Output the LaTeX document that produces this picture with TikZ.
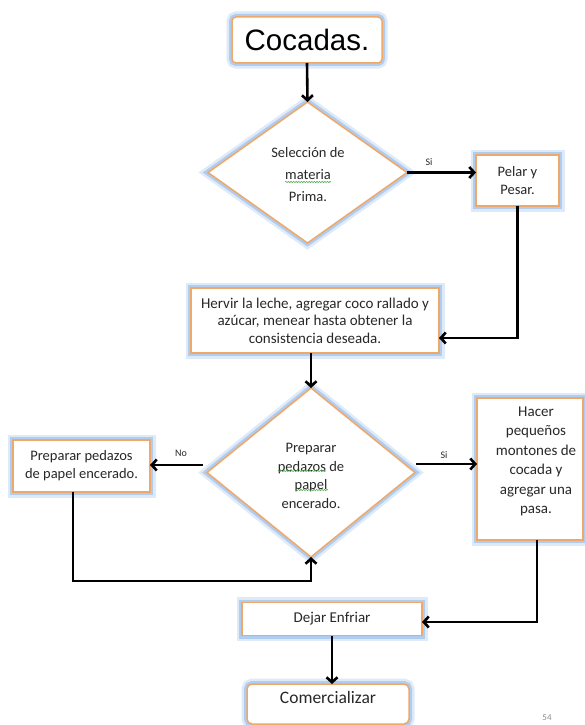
\documentclass[tikz,border=0pt]{standalone}
\usepackage{fontspec}
\setmainfont{Carlito}
\newfontfamily\headfont{Liberation Sans}
\usetikzlibrary{arrows.meta,shapes.geometric,decorations.pathmorphing}

\definecolor{boxorange}{RGB}{240,168,104}
\definecolor{glowblue}{RGB}{150,188,238}
\definecolor{squiggreen}{RGB}{80,170,80}
\definecolor{inkgray}{RGB}{40,40,40}

\tikzset{
  glowbox/.style={draw=boxorange, line width=1.5pt, fill=white,
    preaction={draw=glowblue, line width=11pt, opacity=0.3},
    preaction={draw=glowblue, line width=6pt, opacity=0.65},
    inner sep=0pt, outer sep=0pt},
  rbox/.style={glowbox, rectangle, align=center, text=inkgray,
    font=\fontsize{15}{17.5}\selectfont},
  dbox/.style={glowbox, diamond},
  plain/.style={inner sep=0pt, outer sep=0pt, align=center, text=inkgray},
  tag/.style={plain, font=\fontsize{10}{12}\selectfont},
  arr/.style={line width=2.6pt, draw=black,
    -{Straight Barb[length=5pt, width=11pt, line width=2.6pt]}},
  squigline/.style={draw=squiggreen, line width=0.6pt, decorate,
    decoration={snake, amplitude=0.6pt, segment length=2.6pt}},
}

\begin{document}
\begin{tikzpicture}[x=1pt,y=-1pt]
  \fill[white] (0,0) rectangle (584,725);
  \useasboundingbox (0,0) rectangle (584,725);

  % title
  \node[glowbox, rounded corners=4pt, minimum width=150pt, minimum height=46pt,
        font=\headfont\fontsize{29.5}{32}\selectfont, text=black] (coc) at (307,40) {Cocadas.};

  % first decision
  \node[dbox, minimum width=199pt, minimum height=141pt] (d1) at (307.5,172.5) {};
  \node[plain, font=\fontsize{14.5}{22}\selectfont] (d1txt) at (308,175)
        {Selección de\\materia\\Prima.};
  \node[rbox, minimum width=83pt, minimum height=51pt,
        font=\fontsize{14.5}{18}\selectfont] (pelar) at (517.5,180.5) {Pelar y\\Pesar.};
  \node[tag] (si1) at (429,162) {Si};

  % cooking step
  \node[rbox, minimum width=248pt, minimum height=65pt] (herv) at (315,320.5)
        {Hervir la leche, agregar coco rallado y\\azúcar, menear hasta obtener la\\consistencia deseada.};

  % second decision
  \node[dbox, minimum width=208pt, minimum height=169pt] (d2) at (311,472.5) {};
  \node[plain, font=\fontsize{14.5}{18.7}\selectfont] (d2txt) at (311,476)
        {Preparar\\pedazos de\\papel\\encerado.};
  \node[rbox, minimum width=137pt, minimum height=52pt,
        font=\fontsize{14.5}{18}\selectfont] (prep) at (81.5,466)
        {Preparar pedazos\\de papel encerado.};
  \node[rbox, minimum width=106pt, minimum height=142pt] (hacer) at (530,469) {};
  \node[plain, font=\fontsize{15}{19.5}\selectfont] (hacertxt) at (536,461.5)
        {Hacer\\pequeños\\montones de\\cocada y\\agregar una\\pasa.};
  \node[tag] (no) at (181,453) {No};
  \node[tag] (si2) at (444,455) {Si};

  % spell-check underlines
  \draw[squigline] (285,182) -- (331,182);
  \draw[squigline] (278,471) -- (326,471);
  \draw[squigline] (295,490) -- (328,490);

  % final steps
  \node[rbox, minimum width=180pt, minimum height=33pt] (dejar) at (332,619) {Dejar Enfriar};
  \node[glowbox, rounded corners=5pt, minimum width=162pt, minimum height=40pt] (com) at (328,704) {};
  \node[plain, font=\fontsize{17.5}{20}\selectfont] (comtxt) at (328,697) {Comercializar};

  % page number
  \node[plain, text=black!45, font=\fontsize{9}{10}\selectfont] (pg) at (547,718) {54};

  % connector routing points
  \coordinate (hin) at (439,338);
  \coordinate (nl) at (203,465);
  \coordinate (nr) at (416,464);
  \coordinate (lp) at (73,581);
  \coordinate (hx) at (537,622);

  % connectors
  \draw[arr] (coc.south) -- (d1.north);
  \draw[arr] (d1.east) -- (d1.east -| pelar.west);
  \draw[arr] (pelar.south) |- (hin -| herv.east);
  \draw[arr] (herv.south -| d2.north) -- (d2.north);
  \draw[arr] (nl) -- (nl -| prep.east);
  \draw[arr] (nr) -- (nr -| hacer.west);
  \draw[arr] (prep.south -| lp) -- (lp) -| (d2.south);
  \draw[arr] (hacer.south -| hx) -- (hx) -- (hx -| dejar.east);
  \draw[arr] (dejar.south) -- (dejar.south |- com.north);
\end{tikzpicture}
\end{document}
